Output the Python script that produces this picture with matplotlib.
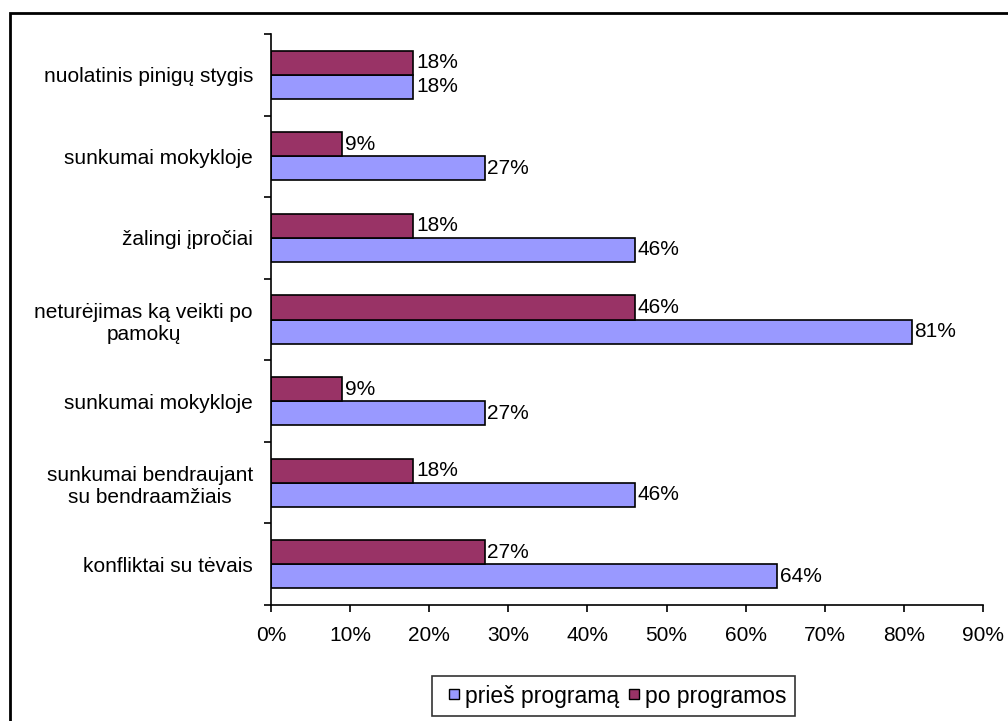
import matplotlib.pyplot as plt
import numpy as np
from matplotlib.patches import Rectangle
from matplotlib.lines import Line2D

plt.rcParams['font.family'] = ['Liberation Sans', 'DejaVu Sans']

categories = ["konfliktai su tėvais",
              "sunkumai bendraujant\nsu bendraamžiais",
              "sunkumai mokykloje",
              "neturėjimas ką veikti po\npamokų",
              "žalingi įpročiai",
              "sunkumai mokykloje",
              "nuolatinis pinigų stygis"]
pries = [64, 46, 27, 81, 46, 27, 18]
po = [27, 18, 9, 46, 18, 9, 18]
xticks = [0, 10, 20, 30, 40, 50, 60, 70, 80, 90]

fs = 15
c_pries = '#9999FF'
c_po = '#993366'

fig = plt.figure(figsize=(10.08, 7.21), dpi=100)
ax = fig.add_axes([271 / 1008, 1 - 605 / 721, (983 - 271) / 1008, (605 - 34) / 721])

y = np.arange(len(categories))
h = 0.295
b1 = ax.barh(y - h / 2, pries, height=h, color=c_pries, edgecolor='black', linewidth=1.2)
b2 = ax.barh(y + h / 2, po, height=h, color=c_po, edgecolor='black', linewidth=1.2)

for bars, vals in [(b1, pries), (b2, po)]:
    for bar, v in zip(bars, vals):
        ax.annotate(f"{v}%", (v, bar.get_y() + bar.get_height() / 2),
                    xytext=(2, 0), textcoords='offset points',
                    va='center', ha='left', fontsize=fs)

ax.set_xlim(0, 90)
ax.set_ylim(-0.5, len(categories) - 0.5)
ax.set_xticks(xticks)
ax.set_xticklabels([f"{t}%" for t in xticks], fontsize=fs)
ax.set_yticks(y)
ax.set_yticklabels(categories, fontsize=fs)
for lab in ax.get_yticklabels():
    lab.set_multialignment('center')
ax.tick_params(axis='y', length=0, pad=13)
ax.set_yticks(np.arange(-0.5, len(categories), 1), minor=True)
ax.tick_params(axis='y', which='minor', length=5, width=1.2)
ax.tick_params(axis='x', length=5, width=1.2, pad=10)

for s in ['top', 'right']:
    ax.spines[s].set_visible(False)
for s in ['left', 'bottom']:
    ax.spines[s].set_linewidth(1.2)

# small square legend keys
handles = [Line2D([], [], linestyle='none', marker='s', markersize=7, markerfacecolor=c,
                  markeredgecolor='black', markeredgewidth=1)
           for c in (c_pries, c_po)]
leg = fig.legend(handles, ['prieš programą', 'po programos'], loc='center',
                 bbox_to_anchor=(613 / 1008, 1 - 696 / 721),
                 ncol=2, fontsize=16.5, frameon=True, fancybox=False, edgecolor='black',
                 handlelength=1.3, handletextpad=-0.18, columnspacing=0.0,
                 borderpad=0.35, borderaxespad=0)
leg.get_frame().set_linewidth(1.2)

# outer chart border
fig.patches.append(Rectangle((10 / 1008, -0.05), 1.1, 1 - 13 / 721 + 0.05,
                             transform=fig.transFigure, fill=False,
                             edgecolor='black', linewidth=2))

fig.savefig('out.png', dpi=100)
